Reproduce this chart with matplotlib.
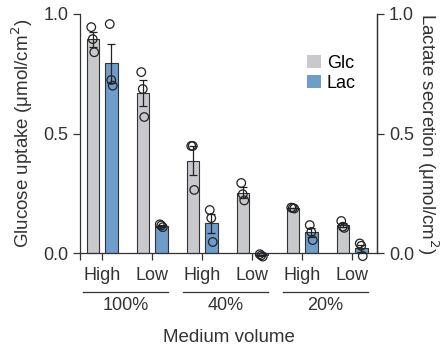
import numpy as np
import matplotlib.pyplot as plt
from matplotlib.patches import Patch
import matplotlib.transforms as mtransforms

plt.rcParams['font.family'] = ['Liberation Sans', 'DejaVu Sans']

# conditions (6 conditions: volume x density)
densities = ['High', 'Low', 'High', 'Low', 'High', 'Low']
volumes = ['100%', '40%', '20%']

# replicate values
glc_pts = [
    [0.945, 0.895, 0.84],
    [0.757, 0.686, 0.569],
    [0.448, 0.448, 0.264],
    [0.293, 0.246, 0.22],
    [0.19, 0.188, 0.186],
    [0.134, 0.11, 0.105],
]
lac_pts = [
    [0.958, 0.724, 0.70],
    [0.12, 0.115, 0.108],
    [0.18, 0.146, 0.046],
    [-0.005, -0.01, -0.015],
    [0.117, 0.088, 0.054],
    [0.04, 0.03, -0.013],
]
jitter = [-0.03, 0.0, 0.03]

glc_color = '#c8c9cd'
lac_color = '#6f9dcb'
ink = '#333333'

fig = plt.figure(figsize=(4.42, 3.47), dpi=100)
ax = fig.add_axes([80/442, 1-253/347, 297/442, 239/347])

x = np.arange(len(densities))
off = 0.185
w = 0.25

def draw(pos, pts, color):
    pts = np.array(pts)
    m = pts.mean(axis=1)
    sem = pts.std(axis=1, ddof=1) / np.sqrt(pts.shape[1])
    ax.bar(pos, m, width=w, color=color, edgecolor=ink, linewidth=0.8, zorder=2,
           clip_on=False)
    eb = ax.errorbar(pos, m, yerr=sem, fmt='none', ecolor='#222222', elinewidth=0.9,
                     capsize=3, capthick=0.9, zorder=3)
    for art in eb.get_children():
        art.set_clip_on(False)
    for j in range(pts.shape[1]):
        ax.scatter(pos + jitter[j], pts[:, j], s=38, facecolors='none',
                   edgecolors='#222222', linewidths=0.9, zorder=4, clip_on=False)

draw(x - off, glc_pts, glc_color)
draw(x + off, lac_pts, lac_color)

ax.set_xlim(-0.44, 5.5)
ax.set_ylim(0, 1.0)
ax.set_yticks([0, 0.5, 1.0])
ax.set_yticklabels(['0.0', '0.5', '1.0'])
ax.set_xticks(np.concatenate([[-0.44], x]))
ax.set_xticklabels([])
ax.tick_params(axis='both', direction='out', length=5, width=0.9, labelsize=13, colors=ink)
for s in ['top']:
    ax.spines[s].set_visible(False)
for s in ['left', 'right', 'bottom']:
    ax.spines[s].set_linewidth(0.9)
    ax.spines[s].set_color(ink)
ax.set_ylabel('Glucose uptake (μmol/cm$^2$)', fontsize=13.5, color=ink, labelpad=6)

ax2 = ax.twinx()
ax2.set_ylim(0, 1.0)
ax2.set_yticks([0, 0.5, 1.0])
ax2.set_yticklabels(['0.0', '0.5', '1.0'])
ax2.tick_params(axis='y', direction='out', length=5, width=0.9, labelsize=13, colors=ink)
ax2.spines['top'].set_visible(False)
ax2.spines['left'].set_visible(False)
ax2.spines['bottom'].set_visible(False)
ax2.spines['right'].set_linewidth(0.9)
ax2.spines['right'].set_color(ink)
ax2.set_ylabel('Lactate secretion (μmol/cm$^2$)', fontsize=13.5, color=ink,
               rotation=270, labelpad=19)

trans = mtransforms.blended_transform_factory(ax.transData, ax.transAxes)
for i, d in enumerate(densities):
    ax.text(x[i], -0.095, d, transform=trans, ha='center', va='center',
            fontsize=13, color=ink)
for g, v in enumerate(volumes):
    a, b = x[2*g] - 0.38, x[2*g+1] + 0.32
    ax.plot([a, b], [-0.163, -0.163], transform=trans, color=ink,
            linewidth=0.9, clip_on=False)
    ax.text((a + b) / 2, -0.218, v, transform=trans, ha='center', va='center',
            fontsize=13, color=ink)
ax.text(0.5, -0.352, 'Medium volume', transform=ax.transAxes, ha='center',
        va='center', fontsize=13.5, color=ink)

handles = [Patch(facecolor=glc_color, edgecolor='none', label='Glc'),
           Patch(facecolor=lac_color, edgecolor='none', label='Lac')]
ax.legend(handles=handles, loc='upper left', bbox_to_anchor=(0.74, 0.86),
          frameon=False, fontsize=13, handlelength=0.8, handleheight=0.8,
          handletextpad=0.3, labelspacing=0.15, borderaxespad=0)

fig.savefig('out.png', dpi=100)
